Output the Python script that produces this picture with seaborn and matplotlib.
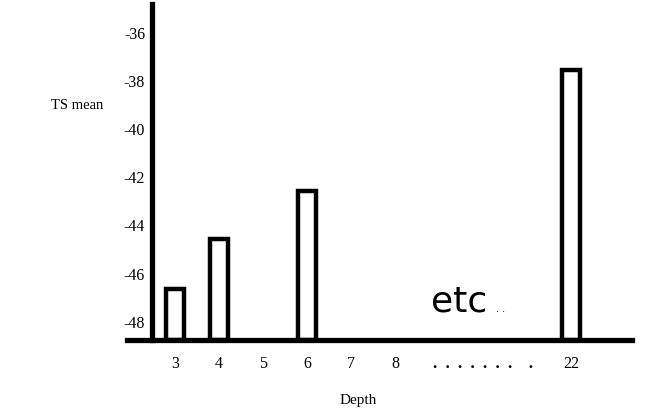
import matplotlib
matplotlib.use("Agg")
import matplotlib.pyplot as plt
import seaborn as sns
import numpy as np
import pandas as pd

# ---- data ----
depth_labels = ["3", "4", "5", "6", "7", "8", " ", ".  .  .  .  .  .  .    .", "  ", "22"]
ts_mean = [-46.7, -44.6, np.nan, -42.6, np.nan, np.nan, np.nan, np.nan, np.nan, -37.6]
y_ticks = [-36, -38, -40, -42, -44, -46, -48]
y_base = -48.8
y_top = -34.85

sns.set_theme(style="white")
plt.rcParams['font.family'] = ['Liberation Serif', 'DejaVu Serif']

fig = plt.figure(figsize=(6.54, 4.10), dpi=100)
ax = fig.add_axes([127 / 654, 69 / 410, 505 / 654, 336 / 410])

df = pd.DataFrame({"Depth": depth_labels,
                   "height": np.array(ts_mean) - y_base})
sns.barplot(data=df, x="Depth", y="height", order=depth_labels,
            fill=False, color="black", linewidth=3.2, width=0.4,
            errorbar=None, ax=ax)
for p in ax.patches:
    p.set_edgecolor("black")
    p.set_linewidth(3.2)

ax.set_xlim(-1.09, 10.39)
ax.set_ylim(0, y_top - y_base)
ax.set_yticks([t - y_base for t in y_ticks])
ax.set_yticklabels([str(t) for t in y_ticks], fontsize=11.5)

for s in ["top", "right"]:
    ax.spines[s].set_visible(False)
ax.spines["left"].set_position(("axes", 25 / 505))
ax.spines["left"].set_linewidth(3.8)
ax.spines["bottom"].set_linewidth(3.8)
ax.spines["left"].set_color("black")
ax.spines["bottom"].set_color("black")
ax.tick_params(axis="both", length=0, colors="black")
ax.tick_params(axis="y", labelsize=11.5, pad=5)
ax.tick_params(axis="x", labelsize=11.5, pad=11)
dots = ax.get_xticklabels()[7]
dots.set_fontweight("bold")
dots.set_fontsize(12)

ax.set_xlabel("Depth", fontsize=11, color="black")
ax.xaxis.set_label_coords((358 - 127) / 505, -(394 - 341) / 336)
ax.set_ylabel("TS mean", fontsize=10.5, rotation=0, color="black")
ax.yaxis.set_label_coords((77 - 127) / 505, (341 - 112) / 336)

fig.text(431 / 654, 1 - 302 / 410, "etc", family="DejaVu Sans", fontsize=26,
         ha="left", va="center", color="black")
fig.text(496 / 654, 1 - 309 / 410, ". .", family="DejaVu Sans", fontsize=7,
         ha="left", va="center", color="black")

fig.savefig("out.png", dpi=100)
